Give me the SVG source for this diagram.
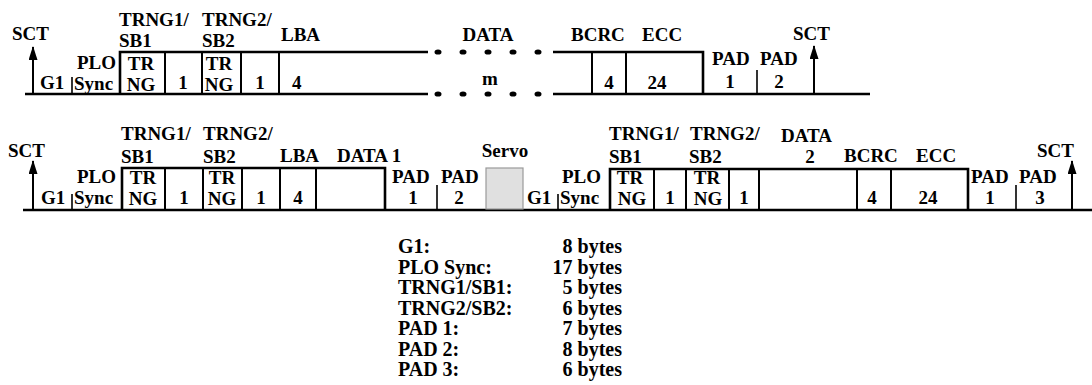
<svg xmlns="http://www.w3.org/2000/svg" width="1092" height="385" viewBox="0 0 1092 385">
<style>
text{font-family:"Liberation Serif","Times New Roman",serif;font-weight:bold;font-size:19px;fill:#000}
.m{text-anchor:middle}
.lg{font-size:20px}
.r{text-anchor:end}
.ln{fill:none;stroke:#000;stroke-width:2.6}
.dv{fill:none;stroke:#000;stroke-width:2}
.tk{fill:none;stroke:#000;stroke-width:1.6}
.dot{fill:#000}
</style>
<defs>
<marker id="ah" viewBox="0 0 14 9" refX="13" refY="4.5" markerWidth="14" markerHeight="9" markerUnits="userSpaceOnUse" orient="auto">
<path d="M0,0 L14,4.5 L0,9 Z" fill="#000"/>
</marker>
</defs>
<rect width="1092" height="385" fill="#fff"/>

<g id="connectors">
<path class="ln" d="M25,94 H428"/>
<path class="ln" d="M553,94 H870"/>
<path class="ln" d="M23,210 H1092"/>
<line class="dv" x1="33" y1="94" x2="33" y2="47" marker-end="url(#ah)"/>
<line class="dv" x1="814" y1="94" x2="814" y2="46" marker-end="url(#ah)"/>
<line class="dv" x1="33" y1="210" x2="33" y2="161" marker-end="url(#ah)"/>
<line class="dv" x1="1072" y1="210" x2="1072" y2="161" marker-end="url(#ah)"/>
</g>

<g id="row1">
<g id="r1-sct-left"><text x="12" y="40">SCT</text></g>
<g id="r1-g1"><text x="40" y="89">G1</text><line class="tk" x1="72" y1="77" x2="72" y2="94"/></g>
<g id="r1-plo"><text x="77" y="69">PLO</text><text x="74" y="90">Sync</text></g>
<g id="r1-box1">
<path class="ln" d="M120,94 V52 H428"/>
<line class="dv" x1="165" y1="52" x2="165" y2="94"/>
<line class="dv" x1="202" y1="52" x2="202" y2="94"/>
<line class="dv" x1="241" y1="52" x2="241" y2="94"/>
<line class="dv" x1="279" y1="52" x2="279" y2="94"/>
</g>
<g id="r1-trng1"><text x="119" y="26">TRNG1/</text><text x="119" y="47">SB1</text><text class="m" x="141" y="70">TR</text><text class="m" x="141" y="91">NG</text></g>
<g id="r1-one1"><text class="m" x="183" y="89">1</text></g>
<g id="r1-trng2"><text x="202" y="26">TRNG2/</text><text x="202" y="47">SB2</text><text class="m" x="219" y="70">TR</text><text class="m" x="219" y="91">NG</text></g>
<g id="r1-one2"><text class="m" x="260" y="89">1</text></g>
<g id="r1-lba"><text x="281" y="41">LBA</text><text x="292" y="89">4</text></g>
<g id="r1-data">
<text class="m" x="488" y="41">DATA</text>
<text class="m" x="490" y="85">m</text>
<ellipse class="dot" cx="438" cy="52" rx="3.5" ry="2.6"/>
<ellipse class="dot" cx="463" cy="52" rx="3.5" ry="2.6"/>
<ellipse class="dot" cx="488" cy="52" rx="3.5" ry="2.6"/>
<ellipse class="dot" cx="513" cy="52" rx="3.5" ry="2.6"/>
<ellipse class="dot" cx="538" cy="52" rx="3.5" ry="2.6"/>
<ellipse class="dot" cx="438" cy="94" rx="3.5" ry="2.6"/>
<ellipse class="dot" cx="463" cy="94" rx="3.5" ry="2.6"/>
<ellipse class="dot" cx="488" cy="94" rx="3.5" ry="2.6"/>
<ellipse class="dot" cx="513" cy="94" rx="3.5" ry="2.6"/>
<ellipse class="dot" cx="538" cy="94" rx="3.5" ry="2.6"/>
</g>
<g id="r1-box2">
<path class="ln" d="M553,52 H703 V94"/>
<line class="dv" x1="592" y1="52" x2="592" y2="94"/>
<line class="dv" x1="626" y1="52" x2="626" y2="94"/>
</g>
<g id="r1-bcrc"><text x="571" y="41">BCRC</text><text class="m" x="609" y="89">4</text></g>
<g id="r1-ecc"><text x="642" y="41">ECC</text><text class="m" x="657" y="89">24</text></g>
<g id="r1-pad1"><text x="712" y="65">PAD</text><text class="m" x="730" y="88">1</text><line class="tk" x1="757" y1="70" x2="757" y2="94"/></g>
<g id="r1-pad2"><text x="760" y="65">PAD</text><text class="m" x="779" y="88">2</text></g>
<g id="r1-sct-right"><text x="793" y="40">SCT</text></g>
</g>

<g id="row2">
<g id="r2-sct-left"><text x="8" y="157">SCT</text></g>
<g id="r2-g1a"><text x="41" y="204">G1</text><line class="tk" x1="72" y1="194" x2="72" y2="210"/></g>
<g id="r2-plo-a"><text x="77" y="183">PLO</text><text x="74" y="204">Sync</text></g>
<g id="r2-box1">
<path class="ln" d="M122,210 V168 H385 V210"/>
<line class="dv" x1="165" y1="168" x2="165" y2="210"/>
<line class="dv" x1="203" y1="168" x2="203" y2="210"/>
<line class="dv" x1="242" y1="168" x2="242" y2="210"/>
<line class="dv" x1="280" y1="168" x2="280" y2="210"/>
<line class="dv" x1="316" y1="168" x2="316" y2="210"/>
</g>
<g id="r2-trng1a"><text x="121" y="140">TRNG1/</text><text x="121" y="163">SB1</text><text class="m" x="143" y="184">TR</text><text class="m" x="143" y="205">NG</text></g>
<g id="r2-one1a"><text class="m" x="184" y="204">1</text></g>
<g id="r2-trng2a"><text x="203" y="140">TRNG2/</text><text x="203" y="163">SB2</text><text class="m" x="222" y="184">TR</text><text class="m" x="222" y="205">NG</text></g>
<g id="r2-one2a"><text class="m" x="261" y="204">1</text></g>
<g id="r2-lba"><text x="280" y="162">LBA</text><text class="m" x="298" y="204">4</text></g>
<g id="r2-data1"><text x="337" y="162">DATA 1</text></g>
<g id="r2-pad1a"><text x="392" y="183">PAD</text><text class="m" x="413" y="204">1</text><line class="tk" x1="437" y1="185" x2="437" y2="210"/></g>
<g id="r2-pad2"><text x="441" y="183">PAD</text><text class="m" x="459" y="204">2</text></g>
<g id="r2-servo"><text class="m" x="505" y="157">Servo</text><rect x="486" y="168" width="37" height="41" fill="#e0e0e0" stroke="#9a9a9a" stroke-width="1.2"/></g>
<g id="r2-g1b"><text x="527" y="204">G1</text><line class="tk" x1="558" y1="194" x2="558" y2="210"/></g>
<g id="r2-plo-b"><text x="562" y="183">PLO</text><text x="560" y="204">Sync</text></g>
<g id="r2-box2">
<path class="ln" d="M610,210 V169 H968 V210"/>
<line class="dv" x1="654" y1="169" x2="654" y2="210"/>
<line class="dv" x1="686" y1="169" x2="686" y2="210"/>
<line class="dv" x1="729" y1="169" x2="729" y2="210"/>
<line class="dv" x1="759" y1="169" x2="759" y2="210"/>
<line class="dv" x1="857" y1="169" x2="857" y2="210"/>
<line class="dv" x1="891" y1="169" x2="891" y2="210"/>
</g>
<g id="r2-trng1b"><text x="609" y="140">TRNG1/</text><text x="609" y="163">SB1</text><text class="m" x="630" y="184">TR</text><text class="m" x="632" y="205">NG</text></g>
<g id="r2-one1b"><text class="m" x="670" y="204">1</text></g>
<g id="r2-trng2b"><text x="690" y="140">TRNG2/</text><text x="689" y="163">SB2</text><text class="m" x="707" y="184">TR</text><text class="m" x="708" y="205">NG</text></g>
<g id="r2-one2b"><text class="m" x="744" y="204">1</text></g>
<g id="r2-data2"><text x="781" y="142">DATA</text><text class="m" x="810" y="163">2</text></g>
<g id="r2-bcrc"><text x="844" y="162">BCRC</text><text class="m" x="872" y="204">4</text></g>
<g id="r2-ecc"><text x="916" y="162">ECC</text><text class="m" x="928" y="204">24</text></g>
<g id="r2-pad1b"><text x="971" y="183">PAD</text><text class="m" x="990" y="204">1</text><line class="tk" x1="1016" y1="185" x2="1016" y2="210"/></g>
<g id="r2-pad3"><text x="1019" y="183">PAD</text><text class="m" x="1040" y="204">3</text></g>
<g id="r2-sct-right"><text x="1037" y="157">SCT</text></g>
</g>

<g id="legend">
<text class="lg" x="398" y="253">G1:</text><text class="lg r" x="622" y="253">8 bytes</text>
<text class="lg" x="398" y="273.5">PLO Sync:</text><text class="lg r" x="622" y="273.5">17 bytes</text>
<text class="lg" x="398" y="294">TRNG1/SB1:</text><text class="lg r" x="622" y="294">5 bytes</text>
<text class="lg" x="398" y="314.5">TRNG2/SB2:</text><text class="lg r" x="622" y="314.5">6 bytes</text>
<text class="lg" x="398" y="335">PAD 1:</text><text class="lg r" x="622" y="335">7 bytes</text>
<text class="lg" x="398" y="355.5">PAD 2:</text><text class="lg r" x="622" y="355.5">8 bytes</text>
<text class="lg" x="398" y="376">PAD 3:</text><text class="lg r" x="622" y="376">6 bytes</text>
</g>
</svg>
